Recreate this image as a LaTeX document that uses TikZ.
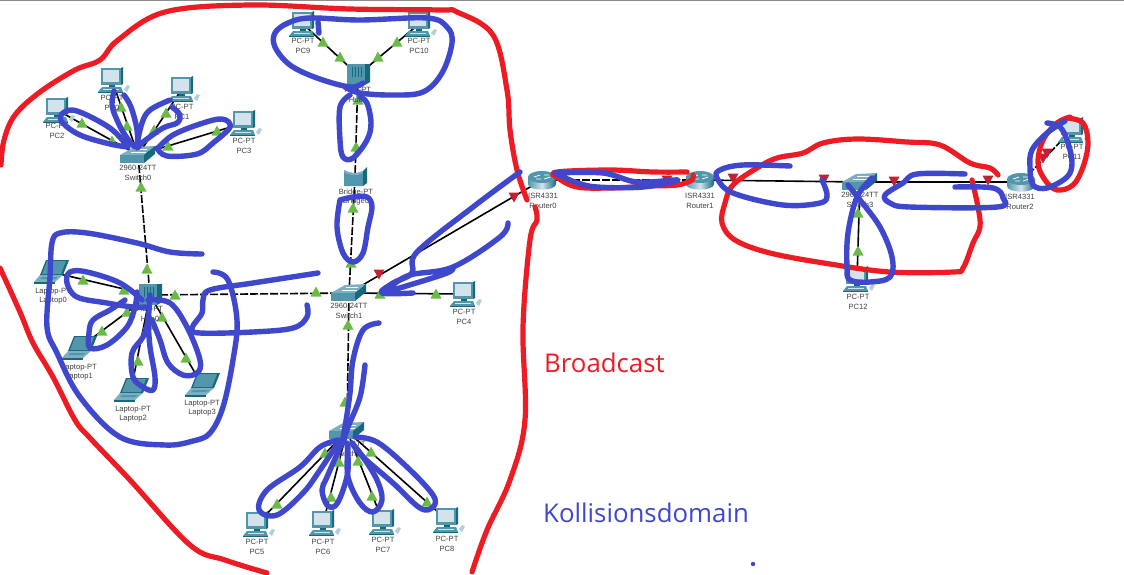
\documentclass[tikz,border=0pt]{standalone}
\usepackage{fontspec}
\setmainfont{Liberation Sans}
\newfontfamily\notefont{Open Sans}
\definecolor{tealtop}{RGB}{125,175,192}
\definecolor{tealface}{RGB}{82,150,172}
\definecolor{tealside}{RGB}{22,104,124}
\definecolor{screen}{RGB}{212,226,235}
\definecolor{penred}{RGB}{237,28,36}
\definecolor{penblue}{RGB}{63,72,204}
\definecolor{markgreen}{RGB}{106,186,72}
\definecolor{markred}{RGB}{196,32,52}
\tikzset{
  dev/.style={inner sep=0pt, minimum size=0pt},
  lbl/.style={inner sep=0pt, align=center, text=black!75, font=\fontsize{7.6}{9.6}\selectfont},
  wire/.style={line width=1.6pt, black},
  dashwire/.style={line width=1.6pt, black, dash pattern=on 8pt off 2pt},
  redpen/.style={line width=5.2pt, penred, line cap=round, line join=round},
  bluepen/.style={line width=5.4pt, penblue, line cap=round, line join=round},
  pics/pcicon/.style={code={
    \fill[tealface] (-11,-12) rectangle (9,5);
    \fill[tealside] (9,-12) -- (11,-13) -- (11,4) -- (9,5) -- cycle;
    \fill[screen] (-9,-10) rectangle (7,2);
    \fill[tealside] (-3,5) rectangle (3,7);
    \fill[tealface] (-14,12) -- (-10,7) -- (9,7) -- (11,12) -- cycle;
    \fill[tealside] (-14,12) rectangle (11,13);
    \fill[screen] (-9,9) rectangle (7,10);
    \fill[tealtop!60] (12,9) -- (15,5) -- (18,6) -- (15,12) -- cycle;
  }},
  pics/laptopicon/.style={code={
    \fill[tealside] (-5,-12) -- (18,-12) -- (12,3) -- (-11,3) -- cycle;
    \fill[tealface] (-4,-11) -- (15,-11) -- (10,2) -- (-9,2) -- cycle;
    \fill[tealtop] (-11,3) -- (12,3) -- (4,10) -- (-17,10) -- cycle;
    \fill[tealside] (-17,10) -- (4,10) -- (4,12) -- (-17,12) -- cycle;
    \fill[tealface] (-9,5) -- (7,5) -- (4,7) -- (-11,7) -- cycle;
  }},
  pics/switchicon/.style={code={
    \fill[tealtop] (-18,0) -- (-4,-8) -- (17,-9) -- (6,0) -- cycle;
    \fill[tealface] (-18,0) rectangle (6,8);
    \fill[tealside] (6,0) -- (17,-9) -- (17,-1) -- (6,8) -- cycle;
    \draw[white, line width=.6pt] (-7,-3) -- (8,-3);
    \draw[white, line width=.6pt] (-3,-6) -- (9,-6);
  }},
  pics/routericon/.style={code={
    \shade[left color=tealface, right color=tealside, middle color=screen] (-14,-3) -- (-14,4) .. controls (-14,11.5) and (14,11.5) .. (14,4) -- (14,-3) -- cycle;
    \fill[tealface] (0,-3) ellipse (14 and 6);
    \draw[white, line width=.8pt] (-8,-3) -- (-2,-5) (2,-1) -- (8,-3) (-6,-1) -- (-1,-1) (2,-5) -- (7,-5);
  }},
  pics/hubicon/.style={code={
    \fill[tealface] (-11,-11) rectangle (7,10);
    \fill[tealside] (7,-11) -- (12,-11) -- (12,7) -- (7,10) -- cycle;
    \foreach \s in {-6,-3,0,3}
      \draw[tealside, line width=.5pt] (\s,-8) -- (\s,2);
  }},
  pics/bridgeicon/.style={code={
    \fill[tealface] (-11,-7) .. controls (-4,-3) and (2,-3) .. (8,-6) -- (8,9) -- (-11,9) -- cycle;
    \fill[tealtop] (-11,-7) .. controls (-4,-3) and (2,-3) .. (8,-6) -- (8,-4) .. controls (2,-1) and (-4,-1) .. (-11,-5) -- cycle;
    \fill[tealside] (8,-6) -- (12,-10) -- (12,6) -- (8,9) -- cycle;
  }},
}
\begin{document}
\begin{tikzpicture}[x=1pt, y=-1pt]
    \useasboundingbox (0,0) rectangle (1124,574);
    \fill[white] (0,0) rectangle (1124,574);
    \fill[black!45] (0,0) rectangle (1124,1);

    % Devices
    \foreach \n/\x/\y in {PC0/112/80, PC1/182/89, PC2/57/110, PC3/244/123, PC4/464/294,
        PC5/257/524, PC6/323/523, PC7/383/522, PC8/447/520, PC9/303/24, PC10/419/24,
        PC11/1072/130, PC12/857/279,
        Laptop0/51/272, Laptop1/79/348, Laptop2/131/390, Laptop3/202/385,
        Switch0/138/155, Switch1/349/293, Switch2/347/431, Switch3/860/182,
        Hub0/150/295, Hub1/358/75, Bridge0/355/177,
        Router0/542/180, Router1/700/180, Router2/1021/182}
        \node[dev] (\n) at (\x,\y) {};

    % Links
    \foreach \a/\b in {PC2/Switch0, PC0/Switch0, PC1/Switch0, PC3/Switch0,
        Laptop0/Hub0, Laptop1/Hub0, Laptop2/Hub0, Laptop3/Hub0,
        PC9/Hub1, PC10/Hub1, Switch1/PC4, Switch1/Router0,
        PC5/Switch2, PC6/Switch2, PC7/Switch2, PC8/Switch2,
        Router1/Switch3, Switch3/Router2, Switch3/PC12}
        \draw[wire] (\a) -- (\b);
    \foreach \a/\b in {Switch0/Hub0, Hub0/Switch1, Hub1/Bridge0, Bridge0/Switch1,
        Switch1/Switch2, Router0/Router1, Router2/PC11}
        \draw[dashwire] (\a) -- (\b);

    % Icons
    \foreach \n in {PC0,PC1,PC2,PC3,PC4,PC5,PC6,PC7,PC8,PC9,PC10,PC11,PC12}
        \pic at (\n) {pcicon};
    \foreach \n in {Laptop0,Laptop1,Laptop2,Laptop3}
        \pic at (\n) {laptopicon};
    \foreach \n in {Switch0,Switch1,Switch2,Switch3}
        \pic at (\n) {switchicon};
    \foreach \n in {Router0,Router1,Router2}
        \pic at (\n) {routericon};
    \foreach \n in {Hub0,Hub1}
        \pic at (\n) {hubicon};
    \pic at (Bridge0) {bridgeicon};

    % Link state marks
    \foreach \x/\y in {82/123, 112/141, 121/107, 127/126, 166/113, 154/130, 217/131, 168/146,
        141/187, 147/269, 83/280, 124/290, 102/331, 127/312, 138/361, 148/325, 186/358, 162/317,
        175/295, 316/292, 380/294, 436/294, 351/263, 353/208, 356/147, 358/100,
        323/42, 340/57, 397/42, 378/57, 348/325, 345/402,
        277/504, 325/453, 331/497, 339/462, 372/496, 358/461, 427/502, 371/452,
        858/213, 858/251}
        \fill[markgreen] (\x,\y) ++(-5.5,4.5) -- ++(11,0) -- ++(-5.5,-10) -- cycle;
    \foreach \x/\y in {379/274, 514/197, 667/180, 733/178, 824/179, 894/181, 988/180, 1047/153, 1043/158}
        \fill[markred] (\x,\y) ++(-5.5,-4.5) -- ++(11,0) -- ++(-5.5,10) -- cycle;

    % Labels
    \foreach \n/\x/\y in {PC0/112/103, PC1/182/112, PC2/57/131, PC3/244/146, PC4/464/317,
        PC5/257/547, PC6/323/547, PC7/383/545, PC8/447/544, PC9/303/46, PC10/419/46,
        PC11/1072/152, PC12/858/302}
        \node[lbl] (\n lbl) at (\x,\y) {PC-PT\\\n};
    \foreach \n/\x/\y in {Laptop0/53/296, Laptop1/79/372, Laptop2/133/414, Laptop3/202/408}
        \node[lbl] (\n lbl) at (\x,\y) {Laptop-PT\\\n};
    \foreach \n/\x/\y in {Switch0/138/173, Switch1/349/311, Switch2/347/449, Switch3/860/200}
        \node[lbl] (\n lbl) at (\x,\y) {2960-24TT\\\n};
    \foreach \n/\x/\y in {Hub0/150/314, Hub1/358/95}
        \node[lbl] (\n lbl) at (\x,\y) {Hub-PT\\\n};
    \node[lbl] (Bridge0 lbl) at (356,197) {Bridge-PT\\Bridge0};
    \foreach \n/\x/\y in {Router0/543/201, Router1/700/201, Router2/1020/202}
        \node[lbl] (\n lbl) at (\x,\y) {ISR4331\\\n};

    % Broadcast strokes
    \draw[redpen] plot[smooth, tension=.6] coordinates {(1,165) (4,140) (15,115) (40,92) (75,70) (100,60)
        (118,40) (165,12) (250,5) (350,9) (440,10) (457,12) (493,35) (507,90) (510,130) (517,170) (527,200)};
    \draw[redpen] plot[smooth, tension=.6] coordinates {(535,207) (537,220) (530,240) (523,327)
        (525,420) (510,480) (487,530) (472,572)};
    \draw[redpen] plot[smooth, tension=.6] coordinates {(0,268) (20,312) (33,343) (53,377) (75,420) (90,438)
        (130,480) (190,545) (225,560) (267,573)};
    \draw[redpen] plot[smooth, tension=.6] coordinates {(687,172) (653,172) (610,170) (557,172) (558,178)
        (577,187) (610,188) (650,186) (677,185) (692,180) (693,175)};
    \draw[redpen] plot[smooth, tension=.6] coordinates {(998,175) (990,168) (970,163) (940,145) (907,142)
        (857,139) (823,143) (803,153) (777,158) (757,168) (733,185) (725,203) (722,223) (735,240)
        (770,253) (830,264) (890,272) (953,272) (963,268) (973,243) (980,227) (978,207) (972,180)};
    \draw[redpen] plot[smooth, tension=.6] coordinates {(1067,118) (1083,123) (1088,143) (1083,167)
        (1073,185) (1057,190) (1045,180) (1038,163) (1043,140) (1057,123) (1070,117)};

    % Collision domain strokes, top hub and bridge
    \draw[bluepen] plot[smooth, tension=.6] coordinates {(363,83) (350,87) (317,78) (290,65) (275,47) (275,33)
        (288,23) (310,18) (360,20) (427,18) (447,27) (452,43) (442,73) (423,92) (393,95) (360,93) (345,87)};
    \draw[bluepen] (318,22) -- (319,33);
    \draw[bluepen] plot[smooth, tension=.6] coordinates {(350,95) (340,107) (340,140) (343,157) (353,158)
        (367,140) (371,123) (367,103) (360,97)};
    \draw[bluepen] plot[smooth, tension=.6] coordinates {(340,200) (337,227) (343,253) (353,262) (363,253)
        (368,227) (372,207) (367,197) (353,197) (340,200)};

    % Switch1 to Router0
    \draw[bluepen] plot[smooth, tension=.6] coordinates {(520,172) (473,207) (417,252) (412,273) (393,283) (382,293) (413,293)};
    \draw[bluepen] plot[smooth, tension=.6] coordinates {(508,223) (500,237) (453,267) (410,275) (390,287) (382,293) (403,287) (447,273) (453,267)};

    % Switch0 petals
    \draw[bluepen] plot[smooth, tension=.6] coordinates {(128,147) (110,128) (77,111) (63,113) (62,122) (80,135) (110,144) (128,147)};
    \draw[bluepen] plot[smooth, tension=.6] coordinates {(124,95) (131,107) (137,130) (136,147) (125,135) (117,120) (112,105) (114,91)};
    \draw[bluepen] plot[smooth, tension=.6] coordinates {(170,100) (150,110) (142,123) (137,147) (143,142) (163,128) (177,123) (180,115) (172,107)};
    \draw[bluepen] plot[smooth, tension=.6] coordinates {(158,148) (173,135) (200,124) (222,119) (230,127) (213,143) (197,154) (167,156) (157,148)};

    % Hub0 contour and petals
    \draw[bluepen] plot[smooth, tension=.6] coordinates {(202,254) (170,252) (137,243) (87,233) (60,233) (52,243)
        (50,277) (47,327) (57,353) (80,397) (120,437) (165,445) (193,441) (210,433) (223,407) (233,360)
        (237,320) (228,280) (213,272)};
    \draw[bluepen] plot[smooth, tension=.6] coordinates {(318,273) (253,283) (210,290) (203,300) (202,313)
        (192,328) (200,333) (253,332) (293,328) (307,317) (307,305)};
    \draw[bluepen] plot[smooth, tension=.6] coordinates {(142,300) (120,283) (87,272) (70,272) (67,283) (77,297) (107,303) (133,307) (145,307)};
    \draw[bluepen] plot[smooth, tension=.6] coordinates {(125,300) (110,310) (93,320) (89,333) (90,348) (107,345) (127,327) (135,307) (137,292)};
    \draw[bluepen] plot[smooth, tension=.6] coordinates {(150,295) (148,320) (143,337) (132,353) (133,377) (143,387) (153,390) (155,377) (150,347) (148,320)};
    \draw[bluepen] plot[smooth, tension=.6] coordinates {(148,300) (170,303) (187,327) (200,360) (197,373) (183,375) (168,363) (160,340) (152,320)};

    % Switch2 petals
    \draw[bluepen] plot[smooth, tension=.6] coordinates {(379,323) (363,330) (353,360) (350,393) (345,427) (342,442)};
    \draw[bluepen] plot[smooth, tension=.6] coordinates {(365,365) (360,397) (348,427) (344,440)};
    \draw[bluepen] plot[smooth, tension=.6] coordinates {(338,440) (320,447) (300,467) (267,490) (259,510) (277,515) (303,493) (320,470) (338,443)};
    \draw[bluepen] plot[smooth, tension=.6] coordinates {(342,443) (327,477) (322,490) (327,505) (335,506) (342,493) (348,470) (347,443)};
    \draw[bluepen] plot[smooth, tension=.6] coordinates {(348,447) (348,477) (360,503) (373,512) (382,500) (377,480) (363,457) (352,443)};
    \draw[bluepen] plot[smooth, tension=.6] coordinates {(355,437) (377,442) (407,467) (433,495) (433,507) (420,508) (393,483) (363,457) (352,443)};

    % Routers and Switch3
    \draw[bluepen] plot[smooth, tension=.6] coordinates {(555,173) (603,173) (637,182) (678,180) (643,187) (597,187) (575,182) (555,173)};
    \draw[bluepen] plot[smooth, tension=.6] coordinates {(790,166) (743,165) (720,170) (717,178) (733,193) (783,205) (820,203) (827,195) (822,180)};
    \draw[bluepen] plot[smooth, tension=.6] coordinates {(848,185) (860,200) (880,227) (892,257) (890,277) (870,282) (850,280) (847,267) (848,233) (857,197) (872,178)};
    \draw[bluepen] plot[smooth, tension=.6] coordinates {(965,174) (917,174) (903,183) (885,195) (890,203) (910,207) (997,207) (1003,198) (993,188) (955,187)};
    \draw[bluepen] plot[smooth, tension=.6] coordinates {(1047,123) (1060,127) (1068,143) (1072,163) (1067,177) (1047,188) (1033,185) (1030,167) (1032,150) (1047,133) (1065,121)};

    % Legend
    \node[anchor=west, inner sep=0pt, text=penred, font=\notefont\fontsize{25.8}{30}\selectfont] (broadcast) at (544,363) {Broadcast};
    \node[anchor=west, inner sep=0pt, text=penblue, font=\notefont\fontsize{25.8}{30}\selectfont] (kollision) at (543,513) {Kollisionsdomain};
    \fill[penblue] (753,564) circle (2.2);
\end{tikzpicture}
\end{document}
